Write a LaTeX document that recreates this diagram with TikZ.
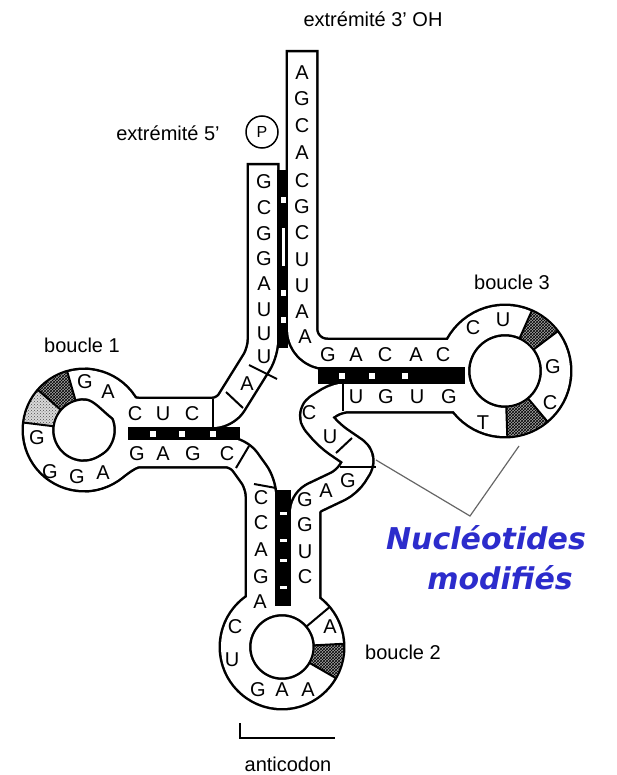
\documentclass[tikz,border=0pt]{standalone}
\usepackage{fontspec}
\setmainfont{Liberation Sans}
\newfontfamily\notefont{DejaVu Sans}
\usetikzlibrary{calc,patterns}
\definecolor{noteblue}{RGB}{44,44,204}
\newcommand{\hatchcell}[6]{\fill[#6] ($(#1)+(#2:#4)$) arc[start angle=#2, end angle=#3, radius=#4] -- ($(#1)+(#3:#5)$) arc[start angle=#3, end angle=#2, radius=#5] -- cycle;}

\begin{document}
\begin{tikzpicture}[x=1pt, y=-1pt,
  base/.style={font=\fontsize{20}{20}\selectfont, inner sep=0pt},
  tag/.style={font=\fontsize{20}{20}\selectfont, inner sep=0pt},
  note/.style={font=\notefont\bfseries\itshape\fontsize{30}{30}\selectfont, text=noteblue, inner sep=0pt},
  strand/.style={line width=#1, line join=round},
  cellline/.style={line width=2pt},
  lead/.style={line width=1.2pt, draw=black!60},
  hatchdark/.style={fill=black!35, postaction={pattern=crosshatch, pattern color=black}},
  hatchlight/.style={fill=black!15, postaction={pattern=crosshatch dots, pattern color=black!70}}
]
  \useasboundingbox (0,0) rectangle (616,775);
  \coordinate (L1) at (84,430);
  \coordinate (L2) at (282,647);
  \coordinate (L3) at (505,371);

  \foreach \w/\c/\sh in {33pt/black/0pt,28pt/white/2.5pt}{
    \draw[strand=\w, draw=\c] (L1) circle[radius=46] (L2) circle[radius=47] (L3) circle[radius=51];
    \draw[strand=\w, draw=\c, rounded corners=25, shorten <=\sh] (302,50) -- (302,354) -- (466,354);
    \draw[strand=\w, draw=\c, rounded corners=12, shorten <=\sh] (263,163) -- (263,352) -- (225,413) -- (150,413) .. controls (118,413) and (108,384) .. (84,384);
    \draw[strand=\w, draw=\c, rounded corners=12] (84,476) .. controls (110,476) and (122,452) .. (152,452) -- (238,452) -- (261,484) -- (261,612);
    \draw[strand=\w, draw=\c, rounded corners=10] (305,610) -- (305,502) -- (347,482) -- (362,458) -- (330,436) -- (311,414) -- (338,397) -- (468,397);
  }

  \hatchcell{L1}{221}{254}{32}{60}{hatchdark}
  \hatchcell{L1}{187}{221}{32}{60}{hatchlight}
  \hatchcell{L3}{294}{323}{37}{65}{hatchdark}
  \hatchcell{L3}{50}{88}{37}{65}{hatchdark}
  \hatchcell{L2}{-3}{30}{33}{61}{hatchdark}

  \foreach \a in {187,221,254} \draw[cellline] ($(L1)+(\a:30)$) -- ($(L1)+(\a:62)$);
  \foreach \a in {294,323,50,88} \draw[cellline] ($(L3)+(\a:35)$) -- ($(L3)+(\a:67)$);
  \foreach \a in {-3,30,320} \draw[cellline] ($(L2)+(\a:31)$) -- ($(L2)+(\a:63)$);
  \draw[cellline] (213,399) -- (213,427);
  \draw[cellline] (249,365) -- (277,379);
  \draw[cellline] (226,392) -- (243,408);
  \draw[cellline] (249,446) -- (236,468);
  \draw[cellline] (254,484) -- (276,488);
  \draw[cellline] (343,383) -- (343,411);
  \draw[cellline] (336,453) -- (352,438);
  \draw[cellline] (340,467) -- (376,467);

  \fill (277,170) rectangle (288,348);
  \fill (128,427) rectangle (240,440);
  \fill (318,367) rectangle (465,384);
  \fill (275,490) rectangle (291,606);
  \foreach \y in {200,293,320} \fill[white] (281,\y-3) rectangle (286,\y+3);
  \fill[white] (282,228) rectangle (285,266);
  \foreach \x in {153,182,213} \fill[white] (\x-3,431) rectangle (\x+3,437);
  \foreach \x in {342,372,405} \fill[white] (\x-3,373) rectangle (\x+3,379);
  \foreach \y in {513,540,560,587} \fill[white] (280,\y-1.5) rectangle (287,\y+1.5);

  \foreach \b/\y [count=\i] in {A/73,G/99,C/126,A/153,C/181,G/207,C/233,U/260,U/286,A/312}
    \node[base] (acc\i) at (302,\y) {\b};
  \node[base] (accA) at (305,337) {A};
  \foreach \b/\y [count=\i] in {G/182,C/208,G/234,G/259,A/284,U/310,U/334,U/357}
    \node[base] (fiv\i) at (264,\y) {\b};
  \node[base] (junA) at (247,384) {A};
  \foreach \b/\x [count=\i] in {G/328,A/356,C/385,A/416,C/443}
    \node[base] (tup\i) at (\x,355) {\b};
  \foreach \b/\x [count=\i] in {U/356,G/386,U/417,G/449}
    \node[base] (tlo\i) at (\x,397) {\b};
  \foreach \b/\x [count=\i] in {C/135,U/163,C/192}
    \node[base] (dup\i) at (\x,414) {\b};
  \foreach \b/\x [count=\i] in {G/137,A/163,G/193,C/227}
    \node[base] (dlo\i) at (\x,454) {\b};
  \foreach \b/\x/\y [count=\i] in {G/85/382,A/108/392,G/37/438,G/50/472,G/77/477,A/103/473}
    \node[base] (lp1\i) at (\x,\y) {\b};
  \foreach \b/\y [count=\i] in {C/498,C/523,A/550,G/577}
    \node[base] (acl\i) at (261,\y) {\b};
  \foreach \b/\y [count=\i] in {G/500,G/525,U/552,C/577}
    \node[base] (acr\i) at (305,\y) {\b};
  \foreach \b/\x/\y [count=\i] in {A/326/491,G/348/481,U/330/437,C/309/413}
    \node[base] (var\i) at (\x,\y) {\b};
  \foreach \b/\x/\y [count=\i] in {A/260/602,C/235/627,U/232/660,G/258/690,A/282/690,A/308/690,A/330/627}
    \node[base] (lp2\i) at (\x,\y) {\b};
  \foreach \b/\x/\y [count=\i] in {C/473/328,U/503/320,G/553/367,C/550/403,T/483/423}
    \node[base] (lp3\i) at (\x,\y) {\b};

  \node[tag] (end3) at (373,19) {extrémité 3' OH};
  \node[tag] (end5) at (168,133) {extrémité 5'};
  \node[draw, circle, line width=1.5pt, minimum size=32pt, inner sep=0pt, font=\fontsize{16}{16}\selectfont] (phos) at (262,132) {P};
  \node[tag] (bcl1) at (82,345) {boucle 1};
  \node[tag] (bcl3) at (512,282) {boucle 3};
  \node[tag] (bcl2) at (403,652) {boucle 2};
  \node[tag] (anti) at (288,764) {anticodon};
  \coordinate (brk) at (240,723);
  \coordinate (brkend) at (335,738);
  \draw[cellline] (brk) |- (brkend);

  \node[note] (mod1) at (486,538) {Nucléotides};
  \node[note] (mod2) at (500,578) {modifiés};
  \coordinate (varpt) at (376,460);
  \coordinate (lp3pt) at (519,446);
  \coordinate (apex) at (470,516);
  \draw[lead] (varpt) -- (apex) -- (lp3pt);
\end{tikzpicture}
\end{document}
